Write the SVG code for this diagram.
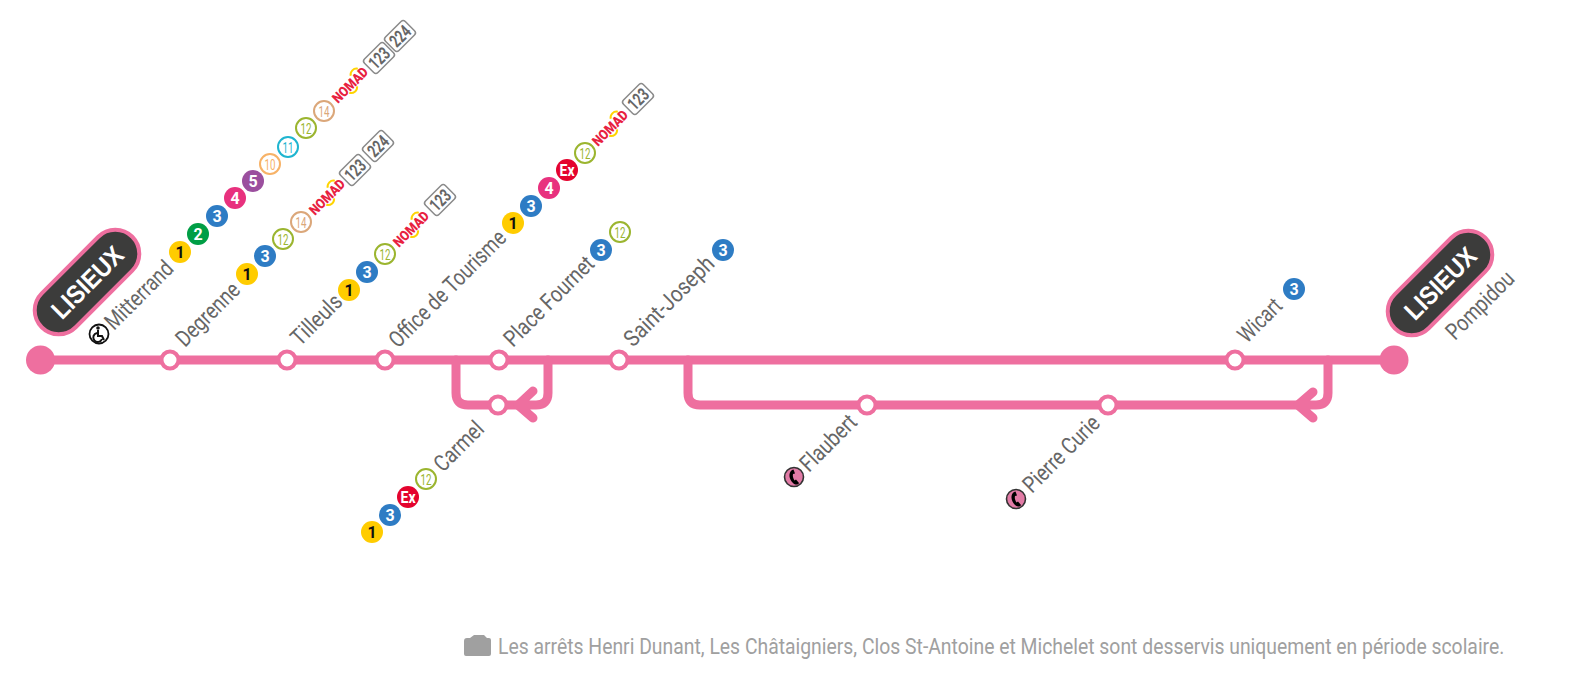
<svg xmlns="http://www.w3.org/2000/svg" width="1581" height="689" viewBox="0 0 1581 689">
<style>
text{font-family:Roboto,"Liberation Sans",sans-serif}
.ln{fill:none;stroke:#ee6f9f;stroke-width:9;stroke-linecap:round;stroke-linejoin:round}
.st{fill:#fff;stroke:#ee6f9f;stroke-width:4}
.en{fill:#ee6f9f}
.pill{fill:#3c3c3b;stroke:#ee6f9f;stroke-width:4}
.pt{fill:#fff;font-size:26px;font-weight:700;text-anchor:middle;font-family:"Liberation Sans",sans-serif}
.lb{fill:#666;font-size:23px}
.b{font-size:16px;font-weight:700;text-anchor:middle;fill:#fff}
.o{font-size:15px;text-anchor:middle}
.k{fill:#111}
.oc{fill:#fff;stroke-width:2}
.tag{fill:#fff;stroke:#8a8a8a;stroke-width:1.5}
.tt{fill:#666;font-size:18px;font-weight:700;text-anchor:middle}
.nm{fill:#e8213f;font-size:14px;font-weight:900;text-anchor:middle}
.ya{fill:none;stroke:#ffd400;stroke-width:2}
</style>
<defs>
<g id="nomad-arcs"><path class="ya" d="M-6 5A6 6 0 0 0 4 6M7-6A6 6 0 0 1 17-6"/></g>
<g id="ph"><circle r="9.500" fill="#e27ba6" stroke="#333" stroke-width="1.600"/><path d="M-2-7C-6-4-5 2-1 6C1 8 4 8 5 6L2 2.500L0.500 3.500C-1 1-1.500-1-1-3L1-3.500L-.5-7.500Z" fill="#000"/></g>
</defs>
<g id="connectors">
<path class="ln" d="M40 360H1394"/>
<path class="ln" d="M456 360V393Q456 405 468 405H518"/>
<path class="ln" d="M548 360V393Q548 405 536 405H518M533 391L518 405L533 418"/>
<path class="ln" d="M688 360V393Q688 405 700 405H1298"/>
<path class="ln" d="M1328 360V393Q1328 405 1316 405H1298M1313 392L1298 405L1313 418"/>
</g>
<g id="start-lisieux"><circle class="en" cx="40.500" cy="360" r="14.500"/>
<g transform="translate(87 282) rotate(-45)"><rect class="pill" x="-64" y="-24" width="128" height="48" rx="24"/><text class="pt" y="9.500" textLength="90" lengthAdjust="spacingAndGlyphs">LISIEUX</text></g></g>
<g id="end-lisieux"><circle class="en" cx="1394" cy="360" r="14.500"/>
<g transform="translate(1440 283) rotate(-45)"><rect class="pill" x="-64" y="-24" width="128" height="48" rx="24"/><text class="pt" y="9.500" textLength="90" lengthAdjust="spacingAndGlyphs">LISIEUX</text></g>
<text class="lb" transform="translate(1455 341) rotate(-45)" textLength="86" lengthAdjust="spacingAndGlyphs">Pompidou</text></g>

<g id="mitterrand"><circle class="st" cx="170" cy="360" r="8.500"/>
<text class="lb" transform="translate(114 331) rotate(-45)" textLength="86" lengthAdjust="spacingAndGlyphs">Mitterrand</text>
<g transform="translate(99 334)"><circle r="9.500" fill="#fff" stroke="#111" stroke-width="1.800"/><circle cx="-1" cy="-6" r="1.800" fill="#111"/><path d="M-1-4V2H3L5 6M-2-1A4.500 4.500 0 1 0 3 5" fill="none" stroke="#111" stroke-width="2"/></g>
<circle cx="180" cy="252" r="11" fill="#ffcc00"/><text class="b k" x="180" y="258">1</text>
<circle cx="198" cy="234" r="11" fill="#009e45"/><text class="b" x="198" y="240">2</text>
<circle cx="217" cy="216" r="11" fill="#2e7cc4"/><text class="b" x="217" y="222">3</text>
<circle cx="235" cy="198" r="11" fill="#e8317e"/><text class="b" x="235" y="204">4</text>
<circle cx="253" cy="181" r="11" fill="#9b4f9e"/><text class="b" x="253" y="187">5</text>
<circle class="oc" cx="270" cy="164" r="10" stroke="#f7b267"/><text class="o" x="270" y="169.500" fill="#f7b267" textLength="11" lengthAdjust="spacingAndGlyphs">10</text>
<circle class="oc" cx="288" cy="147" r="10" stroke="#1fb5d0"/><text class="o" x="288" y="152.500" fill="#1fb5d0" textLength="11" lengthAdjust="spacingAndGlyphs">11</text>
<circle class="oc" cx="306" cy="128" r="10" stroke="#9bb52f"/><text class="o" x="306" y="133.500" fill="#9bb52f" textLength="11" lengthAdjust="spacingAndGlyphs">12</text>
<circle class="oc" cx="324" cy="111" r="10" stroke="#dba77a"/><text class="o" x="324" y="116.500" fill="#dba77a" textLength="11" lengthAdjust="spacingAndGlyphs">14</text>
<g transform="translate(350 85) rotate(-45)"><use href="#nomad-arcs"/><text class="nm" y="5" textLength="44" lengthAdjust="spacingAndGlyphs">NOMAD</text></g>
<g transform="translate(379 58) rotate(-45)"><rect class="tag" x="-14" y="-9.500" width="28" height="19" rx="3"/><text class="tt" y="6.500" textLength="22" lengthAdjust="spacingAndGlyphs">123</text></g>
<g transform="translate(400 36) rotate(-45)"><rect class="tag" x="-14" y="-9.500" width="28" height="19" rx="3"/><text class="tt" y="6.500" textLength="22" lengthAdjust="spacingAndGlyphs">224</text></g>
</g>

<g id="degrenne"><circle class="st" cx="287" cy="360" r="8.500"/>
<text class="lb" transform="translate(185 348) rotate(-45)" textLength="80" lengthAdjust="spacingAndGlyphs">Degrenne</text>
<circle cx="247" cy="274" r="11" fill="#ffcc00"/><text class="b k" x="247" y="280">1</text>
<circle cx="265" cy="256" r="11" fill="#2e7cc4"/><text class="b" x="265" y="262">3</text>
<circle class="oc" cx="283" cy="239" r="10" stroke="#9bb52f"/><text class="o" x="283" y="244.500" fill="#9bb52f" textLength="11" lengthAdjust="spacingAndGlyphs">12</text>
<circle class="oc" cx="301" cy="222" r="10" stroke="#dba77a"/><text class="o" x="301" y="227.500" fill="#dba77a" textLength="11" lengthAdjust="spacingAndGlyphs">14</text>
<g transform="translate(327 197) rotate(-45)"><use href="#nomad-arcs"/><text class="nm" y="5" textLength="44" lengthAdjust="spacingAndGlyphs">NOMAD</text></g>
<g transform="translate(355 170) rotate(-45)"><rect class="tag" x="-14" y="-9.500" width="28" height="19" rx="3"/><text class="tt" y="6.500" textLength="22" lengthAdjust="spacingAndGlyphs">123</text></g>
<g transform="translate(378 146) rotate(-45)"><rect class="tag" x="-14" y="-9.500" width="28" height="19" rx="3"/><text class="tt" y="6.500" textLength="22" lengthAdjust="spacingAndGlyphs">224</text></g>
</g>

<g id="tilleuls"><circle class="st" cx="385" cy="360" r="8.500"/>
<text class="lb" transform="translate(300 347) rotate(-45)" textLength="62" lengthAdjust="spacingAndGlyphs">Tilleuls</text>
<circle cx="349" cy="290" r="11" fill="#ffcc00"/><text class="b k" x="349" y="296">1</text>
<circle cx="367" cy="272" r="11" fill="#2e7cc4"/><text class="b" x="367" y="278">3</text>
<circle class="oc" cx="385" cy="254" r="10" stroke="#9bb52f"/><text class="o" x="385" y="259.500" fill="#9bb52f" textLength="11" lengthAdjust="spacingAndGlyphs">12</text>
<g transform="translate(411 229) rotate(-45)"><use href="#nomad-arcs"/><text class="nm" y="5" textLength="44" lengthAdjust="spacingAndGlyphs">NOMAD</text></g>
<g transform="translate(440 200) rotate(-45)"><rect class="tag" x="-14" y="-9.500" width="28" height="19" rx="3"/><text class="tt" y="6.500" textLength="22" lengthAdjust="spacingAndGlyphs">123</text></g>
</g>

<g id="office-de-tourisme"><circle class="st" cx="499" cy="360" r="8.500"/>
<text class="lb" transform="translate(398 349) rotate(-45)" textLength="155" lengthAdjust="spacingAndGlyphs">Office de Tourisme</text>
<circle cx="513" cy="223" r="11" fill="#ffcc00"/><text class="b k" x="513" y="229">1</text>
<circle cx="531" cy="206" r="11" fill="#2e7cc4"/><text class="b" x="531" y="212">3</text>
<circle cx="549" cy="188" r="11" fill="#e8317e"/><text class="b" x="549" y="194">4</text>
<circle cx="567" cy="170" r="11" fill="#e4032e"/><text class="b" x="567" y="176" textLength="15" lengthAdjust="spacingAndGlyphs">Ex</text>
<circle class="oc" cx="585" cy="153" r="10" stroke="#9bb52f"/><text class="o" x="585" y="158.500" fill="#9bb52f" textLength="11" lengthAdjust="spacingAndGlyphs">12</text>
<g transform="translate(610 128) rotate(-45)"><use href="#nomad-arcs"/><text class="nm" y="5" textLength="44" lengthAdjust="spacingAndGlyphs">NOMAD</text></g>
<g transform="translate(638 99) rotate(-45)"><rect class="tag" x="-14" y="-9.500" width="28" height="19" rx="3"/><text class="tt" y="6.500" textLength="22" lengthAdjust="spacingAndGlyphs">123</text></g>
</g>

<g id="place-fournet"><circle class="st" cx="619" cy="360" r="8.500"/>
<text class="lb" transform="translate(513 348) rotate(-45)" textLength="117" lengthAdjust="spacingAndGlyphs">Place Fournet</text>
<circle cx="601" cy="250" r="11" fill="#2e7cc4"/><text class="b" x="601" y="256">3</text>
<circle class="oc" cx="620" cy="232" r="10" stroke="#9bb52f"/><text class="o" x="620" y="237.500" fill="#9bb52f" textLength="11" lengthAdjust="spacingAndGlyphs">12</text>
</g>

<g id="saint-joseph">
<text class="lb" transform="translate(633 348) rotate(-45)" textLength="117" lengthAdjust="spacingAndGlyphs">Saint-Joseph</text>
<circle cx="723" cy="250" r="11" fill="#2e7cc4"/><text class="b" x="723" y="256">3</text>
</g>

<g id="wicart"><circle class="st" cx="1235" cy="360" r="8.500"/>
<text class="lb" transform="translate(1247 344) rotate(-45)" textLength="52" lengthAdjust="spacingAndGlyphs">Wicart</text>
<circle cx="1294" cy="289" r="11" fill="#2e7cc4"/><text class="b" x="1294" y="295">3</text>
</g>

<g id="carmel"><circle class="st" cx="498" cy="405" r="8.500"/>
<text class="lb" transform="translate(443 473) rotate(-45)" textLength="60" lengthAdjust="spacingAndGlyphs">Carmel</text>
<circle cx="372" cy="532" r="11" fill="#ffcc00"/><text class="b k" x="372" y="538">1</text>
<circle cx="390" cy="515" r="11" fill="#2e7cc4"/><text class="b" x="390" y="521">3</text>
<circle cx="408" cy="497" r="11" fill="#e4032e"/><text class="b" x="408" y="503" textLength="15" lengthAdjust="spacingAndGlyphs">Ex</text>
<circle class="oc" cx="426" cy="479" r="10" stroke="#9bb52f"/><text class="o" x="426" y="484.500" fill="#9bb52f" textLength="11" lengthAdjust="spacingAndGlyphs">12</text>
</g>

<g id="flaubert"><circle class="st" cx="867" cy="405" r="8.500"/>
<text class="lb" transform="translate(809 473) rotate(-45)" textLength="70" lengthAdjust="spacingAndGlyphs">Flaubert</text>
<use href="#ph" x="794" y="477"/></g>

<g id="pierre-curie"><circle class="st" cx="1108" cy="405" r="8.500"/>
<text class="lb" transform="translate(1032 494) rotate(-45)" textLength="98" lengthAdjust="spacingAndGlyphs">Pierre Curie</text>
<use href="#ph" x="1016" y="499"/></g>

<g id="note">
<path d="M464 641Q464 638 467 638L470 638L474 635H484L487 638H489Q491 638 491 640V654Q491 656 489 656H466Q464 656 464 654Z" fill="#a0a0a0"/>
<text transform="translate(498 654) scale(.88 1)" fill="#a0a0a0" font-size="22">Les arrêts Henri Dunant, Les Châtaigniers, Clos St-Antoine et Michelet sont desservis uniquement en période scolaire.</text>
</g>
</svg>
